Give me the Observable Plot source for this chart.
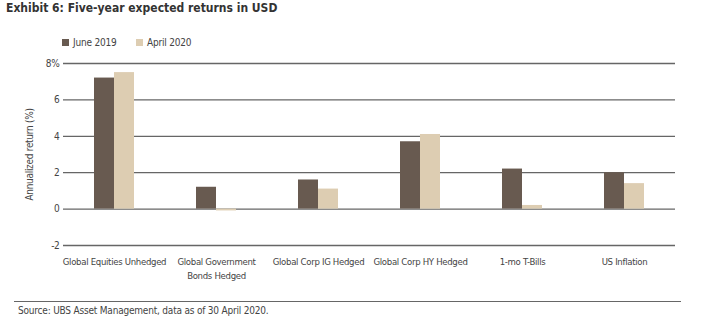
<!DOCTYPE html>
<html>
<head>
<meta charset="utf-8">
<script src="https://cdn.jsdelivr.net/npm/d3@7"></script>
<script src="https://cdn.jsdelivr.net/npm/@observablehq/plot@0.6"></script>
<style>
  html, body { margin: 0; padding: 0; background: #fff; }
  body { width: 701px; height: 332px; position: relative; overflow: hidden;
         font-family: "DejaVu Sans Condensed", "DejaVu Sans", sans-serif; font-stretch: condensed; color: #444; }
  #title { position: absolute; left: 6px; top: 1px; font-size: 12px; font-weight: bold; color: #333; }
  #legend { position: absolute; left: 62px; top: 37px; font-size: 10px; color: #444; display: flex; letter-spacing: -0.2px; }
  .item { display: flex; align-items: center; margin-right: 0; }
  .sw { width: 7px; height: 7px; margin-right: 4px; }
  #chart { position: absolute; left: 0; top: 52px; }
  #rule { position: absolute; left: 14px; top: 301px; width: 667px; height: 0; border-top: 1.3px solid #666; }
  #source { position: absolute; left: 18px; top: 305px; font-size: 10px; color: #444; letter-spacing: -0.2px; }
  svg text { font-stretch: condensed; letter-spacing: -0.3px; }
</style>
</head>
<body>
<div id="title">Exhibit 6: Five-year expected returns in USD</div>
<div id="legend"></div>
<div id="chart"></div>
<div id="rule"></div>
<div id="source">Source: UBS Asset Management, data as of 30 April 2020.</div>
<script>
const categories = ["Global Equities Unhedged", "Global Government Bonds Hedged", "Global Corp IG Hedged", "Global Corp HY Hedged", "1-mo T-Bills", "US Inflation"];
const categoryLabels = ["Global Equities Unhedged", "Global Government\nBonds Hedged", "Global Corp IG Hedged", "Global Corp HY Hedged", "1-mo T-Bills", "US Inflation"];
const series = ["June 2019", "April 2020"];
const june2019 = [7.2, 1.2, 1.6, 3.7, 2.2, 2.0];
const april2020 = [7.5, -0.1, 1.1, 4.1, 0.2, 1.4];
const yTicks = [-2, 0, 2, 4, 6, 8];
const colors = ["#685a50", "#ddcdb2"];

const data = [];
categories.forEach((c, i) => {
  data.push({category: c, series: series[0], value: june2019[i]});
  data.push({category: c, series: series[1], value: april2020[i]});
});

// legend
const legend = document.getElementById("legend");
series.forEach((s, i) => {
  const it = document.createElement("div");
  it.className = "item";
  it.style.width = i === 0 ? "74px" : "auto";
  const sw = document.createElement("div");
  sw.className = "sw";
  sw.style.background = colors[i];
  const tx = document.createElement("span");
  tx.textContent = s;
  it.appendChild(sw); it.appendChild(tx);
  legend.appendChild(it);
});

const font = '"DejaVu Sans Condensed", "DejaVu Sans", sans-serif';
const chart = Plot.plot({
  width: 701,
  height: 230,
  marginLeft: 62,
  marginRight: 26,
  marginTop: 11,
  marginBottom: 37,
  style: {fontFamily: font, fontSize: "9.5px", color: "#444", background: "#fff"},
  fx: {domain: categories, padding: 0, label: null, axis: null},
  x: {domain: series, paddingInner: 0, paddingOuter: 1.55, axis: null},
  y: {domain: [-2, 8], ticks: yTicks},
  color: {domain: series, range: colors},
  marks: [
    Plot.gridY(yTicks, {stroke: "#666", strokeOpacity: 1, strokeWidth: 1.3}),
    Plot.barY(data, {fx: "category", x: "series", y: "value", fill: "series"}),
    Plot.axisY(yTicks, {
      tickSize: 0, tickPadding: 4,
      tickFormat: d => d === 8 ? "8%" : String(d),
      label: "Annualized return (%)", labelAnchor: "center", labelOffset: 38, labelArrow: "none",
      fontSize: 10, fill: "#444"
    }),
    Plot.axisFx({
      anchor: "bottom", tickSize: 0, tickPadding: 9, label: null,
      tickFormat: d => categoryLabels[categories.indexOf(d)],
      lineHeight: 1.5, fontSize: 9.5, fill: "#444"
    })
  ]
});
document.getElementById("chart").appendChild(chart);
</script>
</body>
</html>
